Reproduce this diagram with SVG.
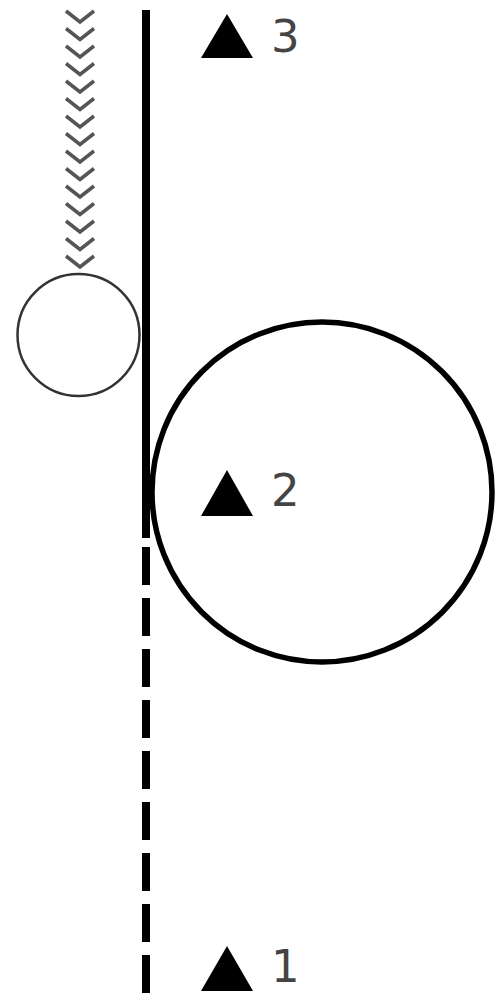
<svg xmlns="http://www.w3.org/2000/svg" width="495" height="997" viewBox="0 0 495 997">
<defs>
<style>
.chev{fill:none;stroke:#555;stroke-width:3.5;stroke-linejoin:miter}
.tri{fill:#000}
.lbl{font-family:"DejaVu Sans",sans-serif;font-size:45px;fill:#444}
</style>
<polyline id="cv" class="chev" points="66,0 80,11 94,0"/>
</defs>
<rect width="495" height="997" fill="#fff"/>
<g id="connectors">
<line x1="146" y1="10" x2="146" y2="538" stroke="#000" stroke-width="8"/>
<line x1="146" y1="547" x2="146" y2="997" stroke="#000" stroke-width="8" stroke-dasharray="38 13"/>
</g>
<g id="spring">
<use href="#cv" y="11"/>
<use href="#cv" y="28.5"/>
<use href="#cv" y="46"/>
<use href="#cv" y="63.5"/>
<use href="#cv" y="81"/>
<use href="#cv" y="98.5"/>
<use href="#cv" y="116"/>
<use href="#cv" y="133.5"/>
<use href="#cv" y="151"/>
<use href="#cv" y="168.5"/>
<use href="#cv" y="186"/>
<use href="#cv" y="203.5"/>
<use href="#cv" y="221"/>
<use href="#cv" y="238.5"/>
<use href="#cv" y="256"/>
</g>
<g id="small-circle">
<circle cx="78.5" cy="335" r="61" fill="none" stroke="#333" stroke-width="2.5"/>
</g>
<g id="big-circle">
<circle cx="322" cy="492" r="170" fill="none" stroke="#000" stroke-width="5.5"/>
</g>
<g id="marker3">
<polygon class="tri" points="201,58 253,58 227,14"/>
<text class="lbl" x="271" y="52">3</text>
</g>
<g id="marker2">
<polygon class="tri" points="201,516 253,516 227,470"/>
<text class="lbl" x="271" y="506">2</text>
</g>
<g id="marker1">
<polygon class="tri" points="201,991 253,991 227,946"/>
<text class="lbl" x="271" y="982">1</text>
</g>
</svg>
